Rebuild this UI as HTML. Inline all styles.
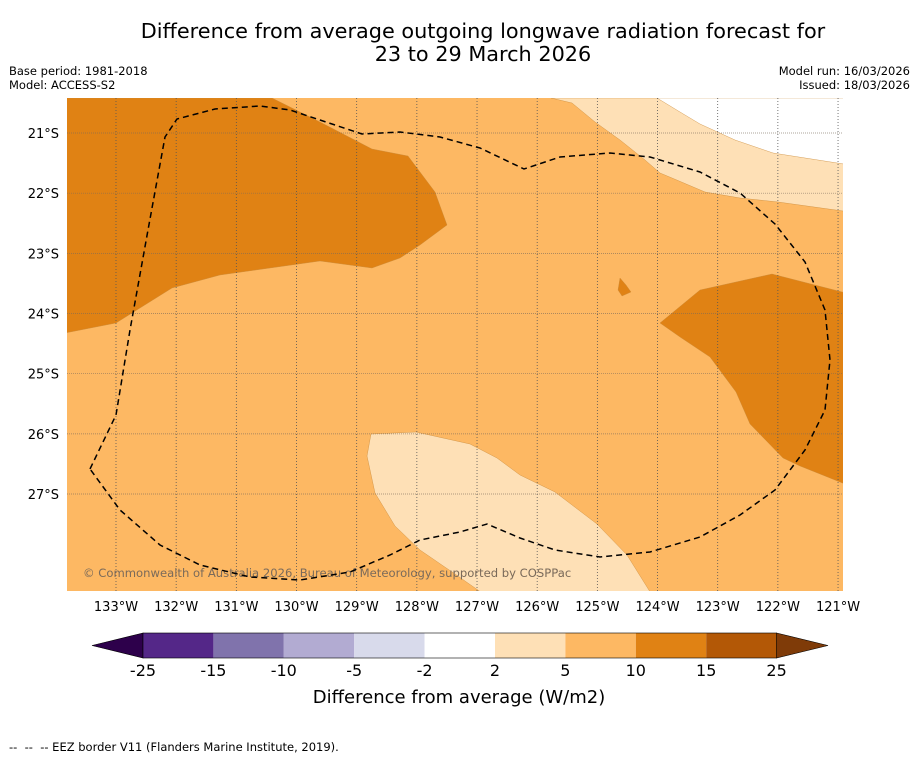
<!DOCTYPE html>
<html><head><meta charset="utf-8"><style>
body{margin:0;background:#fff;font-family:"Liberation Sans","DejaVu Sans",sans-serif;}
#wrap{position:relative;width:919px;height:758px;overflow:hidden;background:#fff}
</style></head><body>
<div id="wrap">
<svg id="svg" width="919" height="758" xmlns="http://www.w3.org/2000/svg" font-family="DejaVu Sans, Liberation Sans, sans-serif">
<text x="483" y="38" text-anchor="middle" font-size="20.8">Difference from average outgoing longwave radiation forecast for</text>
<text x="483" y="61" text-anchor="middle" font-size="20.8">23 to 29 March 2026</text>
<text x="9" y="75" font-size="11.5">Base period: 1981-2018</text>
<text x="9" y="89" font-size="11.5">Model: ACCESS-S2</text>
<text x="910" y="75" font-size="11.5" text-anchor="end">Model run: 16/03/2026</text>
<text x="910" y="89" font-size="11.5" text-anchor="end">Issued: 18/03/2026</text>
<defs><clipPath id="mc"><rect x="67" y="98" width="776" height="493"/></clipPath></defs>
<g id="map" clip-path="url(#mc)"></g>
<g id="grid"></g>
<g id="axes"></g>
<g id="cbar"></g>
<text x="459" y="703" text-anchor="middle" font-size="18">Difference from average (W/m2)</text>
<text x="9" y="751" font-size="11.5" style="white-space:pre">--  --  -- EEZ border V11 (Flanders Marine Institute, 2019).</text>
</svg>
</div>
<script>
const lonTicks=[-133,-132,-131,-130,-129,-128,-127,-126,-125,-124,-123,-122,-121];
const latTicks=[21,22,23,24,25,26,27];
const cbarBounds=[-25,-15,-10,-5,-2,2,5,10,15,25];
const cbarColors=["#542788","#8073ac","#b2abd2","#d8daeb","#ffffff","#fee0b6","#fdb863","#e08214","#b35806"];
const cbarLow="#2d004b", cbarHigh="#7f3b08";
function P(pts){return pts.map(p=>[-133+(p[0]-116)/60.17,21+(p[1]-133)/60.17]);}
const regionHigh1=P([[60,98],[272,98],[320,122],[372,149],[408,156],[435,192],[447,225],[420,245],[400,258],[372,268],[320,261],[220,275],[172,288],[116,323],[60,334]]);
const regionHigh2=P([[660,323],[700,290],[772,274],[850,294],[850,486],[800,466],[783,458],[750,424],[736,392],[710,357],[680,337]]);
const regionHigh3=P([[620,278],[626,285],[631,292],[622,296],[618,290]]);
const regionLight1=P([[551,98],[572,103],[595,122],[620,140],[645,160],[660,173],[672,178],[705,192],[740,198],[778,202],[850,212],[850,98]]);
const regionWhite1=P([[657,98],[680,112],[700,124],[735,140],[773,153],[850,165],[850,98]]);
const regionLight2=P([[371,434],[416,432],[470,444],[497,458],[520,475],[555,492],[597,524],[627,555],[652,595],[485,595],[455,574],[420,550],[395,526],[375,493],[367,456]]);
const eez=P([[90,469],[116,415],[130,330],[148,230],[165,137],[177,119],[215,109],[260,106],[290,110],[320,120],[362,134],[400,132],[440,137],[480,148],[524,169],[560,157],[610,153],[650,157],[700,172],[740,193],[775,224],[805,262],[825,310],[830,360],[825,410],[805,450],[775,490],[740,515],[700,537],[650,552],[600,557],[555,550],[520,538],[487,524],[460,532],[420,540],[390,555],[350,572],[300,580],[250,577],[200,565],[160,545],[120,510],[90,469]]);
const NS="http://www.w3.org/2000/svg";
const X=lon=>116+(lon+133)*60.17, Y=lat=>133+(lat-21)*60.17;
function mk(tag,attrs,parent){const e=document.createElementNS(NS,tag);for(const k in attrs)e.setAttribute(k,attrs[k]);parent.appendChild(e);return e;}
const map=document.getElementById('map'),grid=document.getElementById('grid'),axes=document.getElementById('axes'),cb=document.getElementById('cbar');
let bg=mk('rect',{x:67,y:98,width:776,height:493,fill:"#fdb863"},map);


function poly(pts,fill,name){const e=mk('polygon',{points:pts.map(p=>X(p[0]).toFixed(1)+","+Y(p[1]).toFixed(1)).join(" "),fill:fill,stroke:"#c98a3a","stroke-width":0.4},map);

}
poly(regionHigh1,"#e08214","contour-10-15-northwest");
poly(regionHigh2,"#e08214","contour-10-15-east");
poly(regionHigh3,"#e08214","contour-10-15-small");
poly(regionLight1,"#fee0b6","contour-2-5-northeast");
poly(regionWhite1,"#ffffff","contour-neutral-northeast");
poly(regionLight2,"#fee0b6","contour-2-5-south");
let cp=mk('text',{x:83,y:577,"font-size":11.6,fill:"#7a6a5a"},map);cp.textContent="© Commonwealth of Australia 2026, Bureau of Meteorology, supported by COSPPac";


lonTicks.forEach(l=>{const x=X(l);
let g=mk('line',{x1:x,y1:98,x2:x,y2:591,stroke:"#555","stroke-width":0.8,"stroke-dasharray":"1,2"},grid);


let t=mk('text',{x:x,y:611,"text-anchor":"middle","font-size":13},axes);t.textContent=Math.abs(l)+"°W";

});
latTicks.forEach(l=>{const y=Y(l);
let g=mk('line',{x1:67,y1:y,x2:843,y2:y,stroke:"#7a6a5a","stroke-width":0.7,"stroke-dasharray":"1,1",opacity:0.8},grid);


let t=mk('text',{x:59,y:y+5,"text-anchor":"end","font-size":13},axes);t.textContent=l+"°S";

});
let ez=mk('polyline',{points:eez.map(p=>X(p[0]).toFixed(1)+","+Y(p[1]).toFixed(1)).join(" "),fill:"none",stroke:"#000","stroke-width":1.5,"stroke-dasharray":"6,4"},grid);


const cx0=143,cw=70.4,cy=633,ch=25;
const CX=i=>cx0+i*cw;
let lt=mk('polygon',{points:`${cx0},${cy} 92,${cy+ch/2} ${cx0},${cy+ch}`,fill:cbarLow,stroke:"#000","stroke-width":0.6},cb);


let rt=mk('polygon',{points:`${CX(9)},${cy} 828,${cy+ch/2} ${CX(9)},${cy+ch}`,fill:cbarHigh,stroke:"#000","stroke-width":0.6},cb);


cbarColors.forEach((c,i)=>{let r=mk('rect',{x:CX(i),y:cy,width:cw,height:ch,fill:c},cb);

});
let bo=mk('rect',{x:cx0,y:cy,width:cw*9,height:ch,fill:"none",stroke:"#000","stroke-width":0.6},cb);


cbarBounds.forEach((v,i)=>{let t=mk('text',{x:CX(i),y:676,"text-anchor":"middle","font-size":16},cb);t.textContent=v;

});
</script>
</body></html>
